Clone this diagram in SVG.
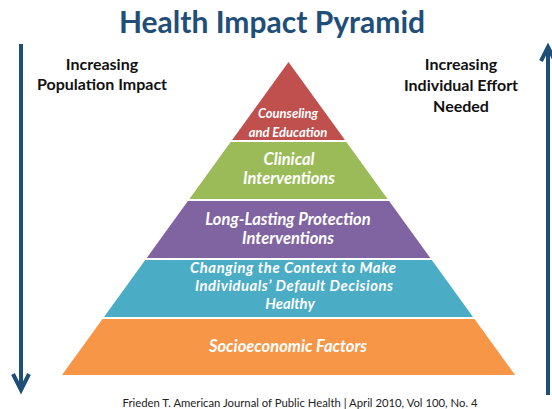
<svg xmlns="http://www.w3.org/2000/svg" width="552" height="409" viewBox="0 0 552 409">
<style>
text{font-family:Lato,"Open Sans","Liberation Sans",sans-serif;}
.title{font-size:30px;font-weight:bold;fill:#1f4e79;text-anchor:middle;}
.side{font-size:16px;font-weight:bold;fill:#111;text-anchor:middle;}
.lbl{font-size:16.5px;font-weight:bold;font-style:italic;fill:#fff;text-anchor:middle;}
.small{font-size:13px;}
.ctx{font-size:14.8px;}
.cite{font-size:11.3px;fill:#222;text-anchor:middle;}
.arrow{stroke:#1f4e79;stroke-width:4;fill:none;}
</style>
<rect width="552" height="409" fill="#fff"/>
<text class="title" x="272" y="33">Health Impact Pyramid</text>
<g id="label-left">
<text class="side" x="102" y="70">Increasing</text>
<text class="side" x="102" y="90">Population Impact</text>
</g>
<g id="label-right">
<text class="side" x="461" y="70">Increasing</text>
<text class="side" x="461" y="91">Individual Effort</text>
<text class="side" x="461" y="112">Needed</text>
</g>
<g id="connectors">
<path class="arrow" d="M21 44 V389"/>
<path class="arrow" d="M13 374 L21 390 L29 374"/>
<path class="arrow" d="M548 395 V48"/>
<path class="arrow" d="M541 61 L548 47 L555 61"/>
</g>
<g id="layer-counseling">
<polygon points="288.5,62 345,140 232.1,140" fill="#c0504d"/>
<text class="lbl small" x="288" y="118">Counseling</text>
<text class="lbl small" x="288" y="137">and Education</text>
</g>
<g id="layer-clinical">
<polygon points="230.6,142 346.4,142 387.6,199 189.4,199" fill="#9bbb59"/>
<text class="lbl" x="289" y="165">Clinical</text>
<text class="lbl" x="289" y="184">Interventions</text>
</g>
<g id="layer-protection">
<polygon points="187.9,201 389.1,201 430.3,258 146.7,258" fill="#8064a2"/>
<text class="lbl" x="288" y="225">Long-Lasting Protection</text>
<text class="lbl" x="288" y="244">Interventions</text>
</g>
<g id="layer-context">
<polygon points="145.2,260 431.8,260 473,317 104,317" fill="#4bacc6"/>
<text class="lbl ctx" x="293" y="273" textLength="206">Changing the Context to Make</text>
<text class="lbl ctx" x="294" y="291" textLength="198">Individuals’ Default Decisions</text>
<text class="lbl ctx" x="290" y="309">Healthy</text>
</g>
<g id="layer-socioeconomic">
<polygon points="102.5,319 474.5,319 515,375 62,375" fill="#f79646"/>
<text class="lbl" x="288" y="352">Socioeconomic Factors</text>
</g>
<text class="cite" x="300" y="407">Frieden T. American Journal of Public Health | April 2010, Vol 100, No. 4</text>
</svg>
